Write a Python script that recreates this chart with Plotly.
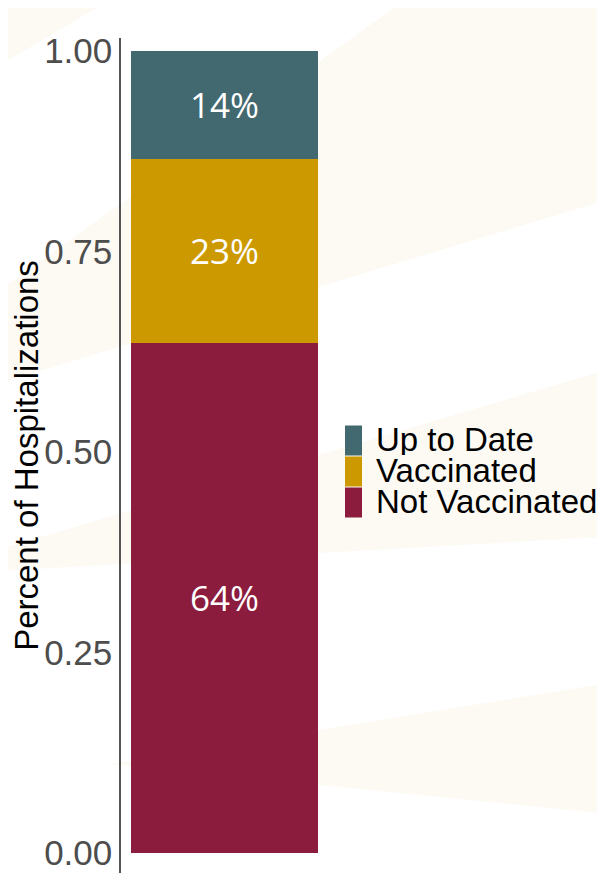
import plotly.graph_objects as go

# ---- data ----
categories = ["All"]
series_names = ["Not Vaccinated", "Vaccinated", "Up to Date"]
series_values = [[0.636], [0.229], [0.135]]
series_labels = [["64%"], ["23%"], ["14%"]]
series_colors = ["#8B1C3E", "#CC9900", "#426870"]
y_ticks = [0.0, 0.25, 0.50, 0.75, 1.00]
y_tick_labels = ["0.00", "0.25", "0.50", "0.75", "1.00"]

# page has an 8px body margin; figure placed at (8, 8)
OFF = 8
W, H = 605 - OFF, 873 - OFF
# plot-area edges in reference (window) pixels
L, R, T, B = 121, 328, 38, 873


def px(x, y):
    return (x - L) / (R - L), (B - y) / (B - T)


def path(points):
    parts = []
    for i, (x, y) in enumerate(points):
        xp, yp = px(x, y)
        parts.append(("M" if i == 0 else "L") + f"{xp:.4f},{yp:.4f}")
    return " ".join(parts) + " Z"


fig = go.Figure()
for name, vals, labs, col in zip(series_names, series_values, series_labels, series_colors):
    fig.add_trace(go.Bar(
        x=categories, y=vals, name=name, text=labs,
        textposition="inside", insidetextanchor="middle",
        textfont=dict(family="Open Sans", size=35, color="white"),
        marker=dict(color=col, line=dict(width=0)),
        width=0.9, showlegend=False, hoverinfo="skip",
    ))

# faint background stripes (slide decoration)
beige = "rgb(253,250,244)"
bands = [
    [(0, 0), (110, 0), (0, 65)],
    [(0, 290), (405, 0), (620, 0), (620, 196), (0, 383)],
    [(0, 549), (620, 366), (620, 536), (0, 571)],
    [(110, 764), (620, 681), (620, 815)],
]
shapes = []
for b in bands:
    shapes.append(dict(type="path", xref="paper", yref="paper", path=path(b),
                       fillcolor=beige, line=dict(width=0), layer="below"))

# legend drawn as key squares + labels
annotations = []
key_top = 425
key_h = 31
for i, idx in enumerate([2, 1, 0]):
    y0 = key_top + i * key_h
    x0p, y0p = px(345, y0 + 0.5)
    x1p, y1p = px(362, y0 + key_h - 0.5)
    shapes.append(dict(type="rect", xref="paper", yref="paper", x0=x0p, x1=x1p,
                       y0=y1p, y1=y0p, fillcolor=series_colors[idx], line=dict(width=0)))
    tx, ty = px(374, y0 + key_h / 2 - 1)
    annotations.append(dict(xref="paper", yref="paper", x=tx, y=ty, text=series_names[idx],
                            showarrow=False, xanchor="left", yanchor="middle",
                            height=key_h, valign="middle",
                            font=dict(family="Liberation Sans, Arial", size=33, color="black")))

fig.update_layout(
    barmode="stack",
    width=W, height=H,
    margin=dict(l=L - OFF, r=(W + OFF) - R, t=T - OFF, b=(H + OFF) - B, pad=0),
    paper_bgcolor="white",
    plot_bgcolor="rgba(0,0,0,0)",
    shapes=shapes,
    annotations=annotations,
    xaxis=dict(visible=False, range=[-0.5, 0.5]),
    yaxis=dict(
        range=[-0.025, 1.016],
        tickvals=y_ticks, ticktext=y_tick_labels,
        tickfont=dict(family="Liberation Sans, Arial", size=35, color="#4D4D4D"),
        ticks="", ticklabelstandoff=0,
        showgrid=False, zeroline=False,
        showline=True, linecolor="#555555", linewidth=1.5,
        title=dict(text="Percent of Hospitalizations", standoff=0,
                   font=dict(family="Liberation Sans, Arial", size=33, color="black")),
    ),
)

fig.write_html("out.html")
